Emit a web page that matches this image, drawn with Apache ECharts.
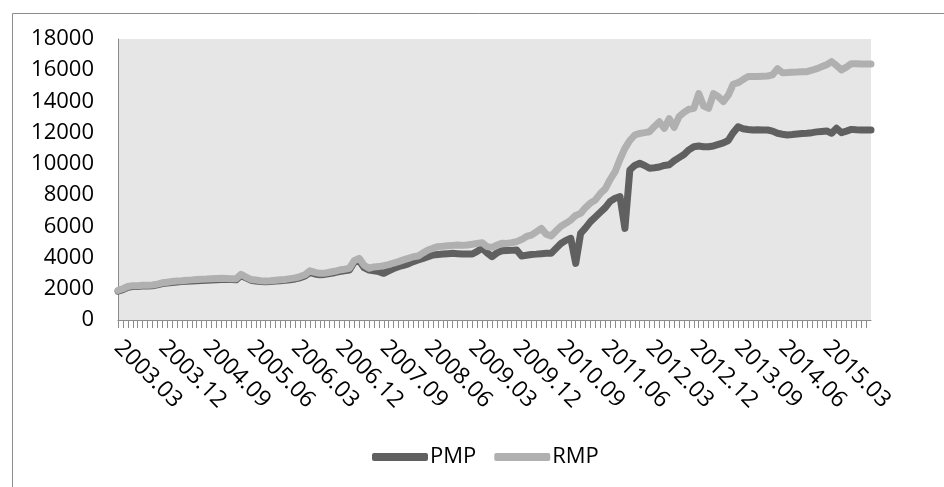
<!DOCTYPE html>
<html>
<head>
<meta charset="utf-8">
<script src="https://cdn.jsdelivr.net/npm/echarts@6/dist/echarts.min.js"></script>
<style>html,body{margin:0;padding:0;background:#fff;}#c{width:944px;height:487px;}</style>
</head>
<body>
<div id="c"></div>
<script>
// Monthly categories 2003.03 .. 2015.12
var categories = [];
for (var y = 2003; y <= 2015; y++) {
  for (var m = (y === 2003 ? 3 : 1); m <= 12; m++) {
    categories.push(y + '.' + (m < 10 ? '0' + m : m));
  }
}
var yTicks = [0, 2000, 4000, 6000, 8000, 10000, 12000, 14000, 16000, 18000];
var labelEvery = 9;

var PMP = [
1850,1950,2100,2150,2150,2170,2180,2190,2250,2330,
2370,2400,2440,2460,2480,2500,2520,2530,2540,2560,
2580,2600,2600,2590,2580,2850,2700,2550,2500,2470,
2450,2470,2500,2520,2540,2580,2630,2700,2820,3050,
2950,2900,2920,2980,3030,3100,3150,3200,3700,3800,
3350,3200,3150,3100,2990,3150,3300,3420,3500,3600,
3740,3850,3950,4050,4160,4200,4230,4250,4270,4250,
4230,4230,4230,4400,4590,4300,4060,4300,4440,4450,
4460,4480,4100,4150,4200,4220,4250,4270,4270,4590,
4900,5100,5230,3630,5550,5900,6300,6600,6900,7200,
7600,7800,7900,5870,9610,9900,10040,9900,9720,9750,
9800,9900,9950,10200,10400,10600,10900,11100,11150,11100,
11100,11150,11250,11350,11500,12000,12380,12250,12200,12170,
12180,12170,12170,12100,11960,11900,11850,11880,11920,11950,
11960,12000,12050,12080,12110,11960,12280,12000,12100,12210,
12180,12170,12170,12170
];
var RMP = [
1900,2000,2150,2200,2200,2220,2230,2240,2300,2380,
2420,2460,2500,2520,2550,2570,2600,2610,2620,2640,
2660,2670,2660,2650,2640,2930,2750,2600,2560,2520,
2500,2520,2550,2580,2600,2650,2700,2780,2900,3150,
3050,2990,3000,3060,3120,3200,3250,3310,3800,3950,
3500,3310,3400,3420,3480,3550,3650,3740,3850,3950,
4050,4100,4300,4480,4600,4700,4720,4750,4780,4800,
4780,4800,4850,4910,4950,4700,4650,4800,4910,4900,
4950,5020,5150,5350,5440,5650,5870,5500,5380,5700,
6000,6190,6400,6700,6830,7200,7500,7690,8100,8400,
9000,9500,10300,11000,11500,11850,11950,12000,12060,12400,
12700,12280,12900,12340,13030,13300,13500,13560,14500,13700,
13560,14500,14300,13990,14400,15100,15200,15400,15590,15600,
15600,15620,15630,15700,16100,15840,15850,15870,15880,15900,
15910,16000,16100,16230,16350,16550,16300,16020,16200,16420,
16420,16400,16400,16400
];

var FONT = 'Open Sans';
var chart = echarts.init(document.getElementById('c'), null, {renderer: 'canvas'});
chart.setOption({
  animation: false,
  backgroundColor: '#fff',
  textStyle: {fontFamily: FONT},
  graphic: [{
    type: 'rect', left: 10, top: 11,
    shape: {width: 1000, height: 1000},
    style: {fill: 'none', stroke: '#8c8c8c', lineWidth: 1}
  }],
  grid: {left: 118, right: 73, top: 39, bottom: 167, show: true, backgroundColor: '#e6e6e6', borderWidth: 0},
  legend: {
    left: 367, top: 441,
    itemWidth: 56, itemHeight: 8, itemGap: 18,
    icon: 'roundRect',
    textStyle: {fontFamily: FONT, fontSize: 22, color: '#000', padding: [0, 0, 0, -3]},
    data: ['PMP', 'RMP']
  },
  xAxis: {
    type: 'category', data: categories, boundaryGap: false,
    axisLine: {show: true, lineStyle: {color: '#8c8c8c', width: 1}},
    axisTick: {show: true, interval: 0, length: 8, inside: false, lineStyle: {color: '#8c8c8c'}},
    axisLabel: {
      interval: function (idx) { return idx % labelEvery === 0; },
      showMaxLabel: false,
      rotate: -45, margin: 24, fontSize: 23, color: '#000', fontFamily: FONT
    },
    splitLine: {show: false}
  },
  yAxis: {
    type: 'value', min: yTicks[0], max: yTicks[yTicks.length - 1], interval: 2000,
    axisLine: {show: true, lineStyle: {color: '#8c8c8c', width: 1}},
    axisTick: {show: false},
    axisLabel: {margin: 24, fontSize: 22, color: '#000', fontFamily: FONT,
      formatter: function (v) { return String(v); }},
    splitLine: {show: false}
  },
  series: [
    {name: 'PMP', type: 'line', data: PMP, showSymbol: false, symbol: 'none',
     itemStyle: {color: '#606060'},
     lineStyle: {color: '#606060', width: 7, cap: 'round', join: 'round'}},
    {name: 'RMP', type: 'line', data: RMP, showSymbol: false, symbol: 'none',
     itemStyle: {color: '#b0b0b0'},
     lineStyle: {color: '#b0b0b0', width: 7, cap: 'round', join: 'round'}}
  ]
});
</script>
</body>
</html>
